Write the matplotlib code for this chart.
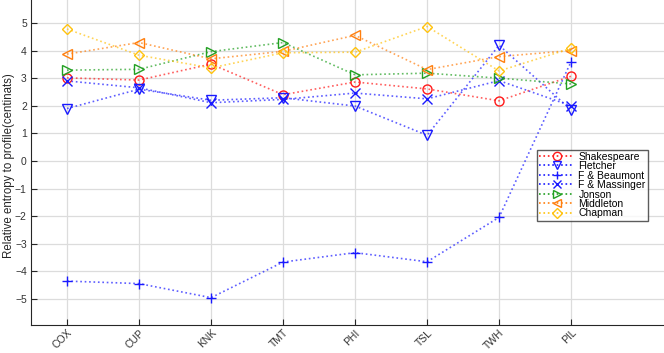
import matplotlib
matplotlib.use('Agg')
import matplotlib.pyplot as plt

plays = ['COX', 'CUP', 'KNK', 'TMT', 'PHI', 'TSL', 'TWH', 'PIL']

shakespeare = [3.01, 2.93, 3.51, 2.40, 2.86, 2.61, 2.18, 3.07]
fletcher = [1.90, 2.60, 2.20, 2.29, 1.99, 0.93, 4.19, 1.85]
beaumont = [-4.35, -4.44, -4.95, -3.66, -3.32, -3.65, -2.04, 3.60]
massinger = [2.90, 2.65, 2.11, 2.23, 2.46, 2.25, 2.91, 2.00]
jonson = [3.29, 3.32, 3.96, 4.29, 3.12, 3.18, 3.00, 2.79]
middleton = [3.87, 4.29, 3.70, 3.97, 4.55, 3.31, 3.78, 4.00]
chapman = [4.78, 3.83, 3.37, 3.92, 3.94, 4.87, 3.26, 4.08]

series = [
    ('Shakespeare', shakespeare, 'o', '#ff1a1a'),
    ('Fletcher', fletcher, 'v', '#1a1aff'),
    ('F & Beaumont', beaumont, '+', '#1a1aff'),
    ('F & Massinger', massinger, 'x', '#1a1aff'),
    ('Jonson', jonson, '>', '#22a022'),
    ('Middleton', middleton, '<', '#ff7f0e'),
    ('Chapman', chapman, 'D', '#ffc20e'),
]

plt.rcParams['font.family'] = ['Liberation Sans', 'DejaVu Sans']

fig = plt.figure(figsize=(6.64, 3.53), dpi=100)
ax = fig.add_axes([0.0467, 0.0793, 0.9533, 0.9207])

x = list(range(1, len(plays) + 1))
for name, vals, mk, col in series:
    ms = 5 if mk == 'D' else 6.5
    ax.plot(x, vals, linestyle=':', color=col, linewidth=1.2, alpha=0.7)
    ax.plot(x, vals, linestyle='none', marker=mk, markersize=ms,
            markerfacecolor='none', markeredgecolor=col, markeredgewidth=1.0)

# legend proxies (line + marker)
handles = []
for name, vals, mk, col in series:
    ms = 5 if mk == 'D' else 6
    h, = ax.plot([], [], linestyle=':', color=col, linewidth=1.2, marker=mk,
                 markersize=ms, markerfacecolor='none', markeredgecolor=col)
    handles.append(h)
leg = ax.legend(handles, [s[0] for s in series], loc='upper left',
                bbox_to_anchor=(0.799, 0.54), fontsize=7.5, frameon=True,
                fancybox=False, edgecolor='#333333', handlelength=3.4,
                handletextpad=0.4, borderpad=0.2, labelspacing=-0.05,
                borderaxespad=0)
leg.get_frame().set_linewidth(1.0)

ax.set_xlim(0.5, 9.29)
ax.set_ylim(-5.94, 5.83)
ax.set_xticks(x)
ax.set_xticklabels(plays, rotation=45, ha='right', rotation_mode='anchor', fontsize=7.5)
ax.set_yticks(range(-5, 6))
ax.tick_params(axis='y', labelsize=7.5, direction='in', length=4, colors='#262626', pad=3)
ax.tick_params(axis='x', direction='in', length=4, colors='#262626', pad=2)
for lbl in ax.get_xticklabels() + ax.get_yticklabels():
    lbl.set_color('#333333')
ax.grid(True, color='#dcdcdc', linewidth=0.9)
ax.set_axisbelow(True)
ax.spines['top'].set_visible(False)
ax.spines['right'].set_visible(False)
ax.spines['left'].set_color('#262626')
ax.spines['bottom'].set_color('#262626')
ax.set_ylabel('Relative entropy to profile(centinats)', fontsize=8.3, color='#262626')
ax.yaxis.set_label_coords(-0.026, 0.49)

fig.savefig('out.png', dpi=100)
